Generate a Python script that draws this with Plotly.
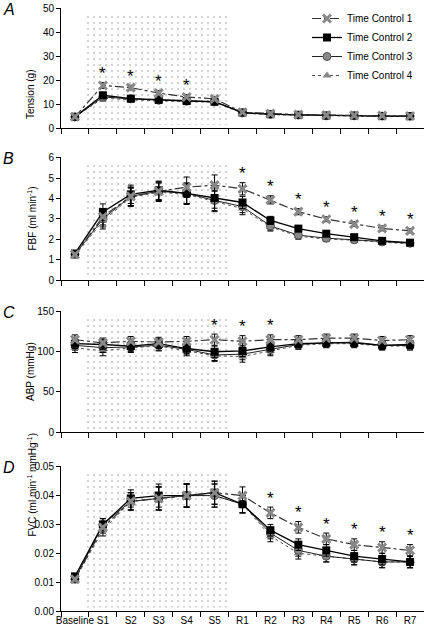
import plotly.graph_objects as go

categories = ["Baseline", "S1", "S2", "S3", "S4", "S5", "R1", "R2", "R3", "R4", "R5", "R6", "R7"]
series_names = ["Time Control 1", "Time Control 2", "Time Control 3", "Time Control 4"]

# Panel A: Tension (g)
tension_tc1 = [4.7, 17.8, 16.9, 14.6, 13.0, 12.2, 6.6, 6.0, 5.6, 5.4, 5.3, 5.2, 5.0]
tension_tc2 = [4.7, 13.7, 12.3, 11.8, 11.3, 11.0, 6.5, 5.8, 5.5, 5.2, 5.2, 5.0, 5.0]
tension_tc3 = [4.6, 13.0, 12.2, 11.6, 11.2, 11.0, 6.3, 5.7, 5.4, 5.1, 5.1, 5.0, 4.9]
tension_tc4 = [4.6, 12.5, 11.8, 11.3, 11.0, 10.8, 6.2, 5.6, 5.3, 5.0, 5.0, 4.9, 4.8]
tension_err = [0.5, 1.2, 1.0, 1.0, 1.0, 1.0, 0.6, 0.5, 0.5, 0.5, 0.5, 0.5, 0.5]
tension_stars = [1, 2, 3, 4]

# Panel B: FBF (ml min-1)
fbf_tc1 = [1.25, 3.1, 4.1, 4.35, 4.55, 4.65, 4.47, 3.93, 3.35, 2.98, 2.74, 2.53, 2.41]
fbf_tc2 = [1.3, 3.33, 4.2, 4.4, 4.25, 4.02, 3.8, 2.92, 2.52, 2.27, 2.1, 1.92, 1.83]
fbf_tc3 = [1.25, 3.0, 4.1, 4.35, 4.25, 3.9, 3.6, 2.65, 2.2, 2.05, 1.97, 1.87, 1.8]
fbf_tc4 = [1.2, 2.9, 4.05, 4.3, 4.2, 3.85, 3.5, 2.6, 2.15, 2.0, 1.95, 1.85, 1.78]
fbf_err = [0.1, 0.4, 0.45, 0.45, 0.5, 0.5, 0.3, 0.2, 0.15, 0.12, 0.12, 0.12, 0.1]
fbf_stars = [6, 7, 8, 9, 10, 11, 12]

# Panel C: ABP (mmHg)
abp_tc1 = [115, 111, 113, 112, 113, 115, 113, 115, 115, 117, 117, 114, 115]
abp_tc2 = [110, 109, 107, 110, 104, 100, 101, 106, 110, 111, 111, 108, 109]
abp_tc3 = [108, 105, 106, 108, 103, 96, 97, 103, 109, 111, 112, 108, 108]
abp_tc4 = [105, 101, 105, 107, 101, 95, 94, 101, 108, 110, 110, 107, 107]
abp_err = [6, 6, 6, 6, 6, 7, 7, 6, 5, 5, 5, 5, 5]
abp_stars = [5, 6, 7]

# Panel D: FVC (ml min-1 mmHg-1)
fvc_tc1 = [0.011, 0.029, 0.038, 0.039, 0.040, 0.041, 0.040, 0.034, 0.029, 0.025, 0.023, 0.022, 0.021]
fvc_tc2 = [0.012, 0.030, 0.039, 0.040, 0.040, 0.041, 0.037, 0.028, 0.023, 0.021, 0.019, 0.018, 0.017]
fvc_tc3 = [0.011, 0.030, 0.038, 0.039, 0.040, 0.040, 0.037, 0.027, 0.021, 0.019, 0.018, 0.017, 0.017]
fvc_tc4 = [0.011, 0.028, 0.038, 0.039, 0.040, 0.040, 0.037, 0.026, 0.020, 0.019, 0.018, 0.017, 0.017]
fvc_err = [0.001, 0.002, 0.003, 0.004, 0.004, 0.004, 0.003, 0.002, 0.002, 0.002, 0.002, 0.002, 0.002]
fvc_stars = [7, 8, 9, 10, 11, 12]

panels = [
    dict(letter="A", title="Tension (g)", data=[tension_tc1, tension_tc2, tension_tc3, tension_tc4],
         err=tension_err, stars=tension_stars, rng=[0, 50], dtick=10, fmt=None, top=8, bot=128),
    dict(letter="B", title="FBF (ml min<sup>-1</sup>)", data=[fbf_tc1, fbf_tc2, fbf_tc3, fbf_tc4],
         err=fbf_err, stars=fbf_stars, rng=[0, 6], dtick=1, fmt=None, top=157, bot=280),
    dict(letter="C", title="ABP (mmHg)", data=[abp_tc1, abp_tc2, abp_tc3, abp_tc4],
         err=abp_err, stars=abp_stars, rng=[0, 150], dtick=50, fmt=None, top=311, bot=432),
    dict(letter="D", title="FVC (ml min<sup>-1</sup> mmHg<sup>-1</sup>)", data=[fvc_tc1, fvc_tc2, fvc_tc3, fvc_tc4],
         err=fvc_err, stars=fvc_stars, rng=[0, 0.05], dtick=0.01, fmt=".2f", top=466, bot=611),
]

W, H = 424, 626
styles = [
    dict(line=dict(color="#333333", width=1.2, dash="dashdot"), marker=dict(symbol="x-thin-open", size=8, color="#888888", line=dict(width=3, color="#888888"))),
    dict(line=dict(color="black", width=1.3, dash="solid"), marker=dict(symbol="square", size=8, color="black")),
    dict(line=dict(color="#222222", width=1, dash="solid"), marker=dict(symbol="circle", size=8, color="#888888", line=dict(width=1, color="#555555"))),
    dict(line=dict(color="#555555", width=1, dash="dot"), marker=dict(symbol="triangle-up", size=8, color="#888888")),
]

x = list(range(len(categories)))
fig = go.Figure()
annotations = []
font = "Liberation Sans, Arial, sans-serif"

for i, p in enumerate(panels):
    ax = "" if i == 0 else str(i + 1)
    xref, yref = "x" + ax, "y" + ax
    lo, hi = p["rng"]
    span = hi - lo
    # stimulation shading
    sb, st = lo + 0.025 * span, lo + 0.97 * span
    fig.add_trace(go.Scatter(
        x=[0.35, 5.52, 5.52, 0.35, 0.35], y=[sb, sb, st, st, sb], mode="lines",
        fill="toself", fillcolor="white", line=dict(width=0),
        fillpattern=dict(shape=".", size=6, solidity=0.05, fgcolor="#222222", bgcolor="white"),
        hoverinfo="skip", showlegend=False, xaxis=xref, yaxis=yref))
    for s in [3, 2, 1, 0]:
        st_ = styles[s]
        fig.add_trace(go.Scatter(
            x=x, y=p["data"][s], mode="lines+markers", name=series_names[s],
            line=st_["line"], marker=st_["marker"],
            error_y=dict(type="data", array=p["err"], color="black", thickness=1, width=3),
            showlegend=(i == 0), legendrank=s + 1, xaxis=xref, yaxis=yref))
    for k in p["stars"]:
        annotations.append(dict(x=k, y=p["data"][0][k] + p["err"][k], xref=xref, yref=yref,
                                text="*", showarrow=False, yshift=9,
                                font=dict(size=17, color="black", family=font)))
    ydom = [1 - p["bot"] / H, 1 - p["top"] / H]
    xa = dict(domain=[61 / W, 1], range=[-0.5, 12.5], showgrid=False, zeroline=False,
              showline=True, linecolor="black", linewidth=1, automargin=False,
              ticks="", showticklabels=(i == 3),
              minor=dict(tickmode="array", tickvals=[k - 0.5 for k in range(14)],
                         ticks="outside", ticklen=5, tickcolor="black", showgrid=False),
              anchor=yref, fixedrange=True)
    if i == 3:
        xa.update(tickmode="array", tickvals=x, ticktext=categories, tickangle=0,
                  tickfont=dict(size=10, color="black", family=font))
    else:
        xa.update(tickmode="array", tickvals=x)
    fig.update_layout(**{
        "xaxis" + ax: xa,
        "yaxis" + ax: dict(domain=ydom, range=[lo, hi * 1.005], showgrid=False, zeroline=False,
                           showline=True, linecolor="black", linewidth=1, automargin=False,
                           tickmode="linear", tick0=0, dtick=p["dtick"], tickformat=p["fmt"],
                           ticks="outside", ticklen=4, tickcolor="black",
                           tickfont=dict(size=10, color="black", family=font),
                           anchor=xref, fixedrange=True),
    })
    annotations.append(dict(x=23 / W, y=(ydom[0] + ydom[1]) / 2, xref="paper", yref="paper",
                            text=p["title"], textangle=-90, showarrow=False,
                            font=dict(size=10, color="black", family=font)))
    annotations.append(dict(x=2 / W, y=1 - (p["top"] - 8) / H, xref="paper", yref="paper",
                            xanchor="left", yanchor="top", text="<i>" + p["letter"] + "</i>",
                            showarrow=False, borderpad=0,
                            font=dict(size=16, color="black", family=font)))

fig.update_layout(
    width=W, height=H, margin=dict(l=0, r=0, t=0, b=0, autoexpand=False),
    paper_bgcolor="white", plot_bgcolor="rgba(0,0,0,0)",
    annotations=annotations,
    legend=dict(x=307 / W, y=1 - 4 / H, xanchor="left", yanchor="top", bgcolor="rgba(0,0,0,0)",
                font=dict(size=10, color="black", family=font), itemwidth=30, tracegroupgap=0,
                traceorder="normal"),
    font=dict(family=font, color="black"),
)

fig.write_html("out.html", config={"displayModeBar": False},
               post_script="document.body.style.margin='0';document.body.style.overflow='hidden';")
